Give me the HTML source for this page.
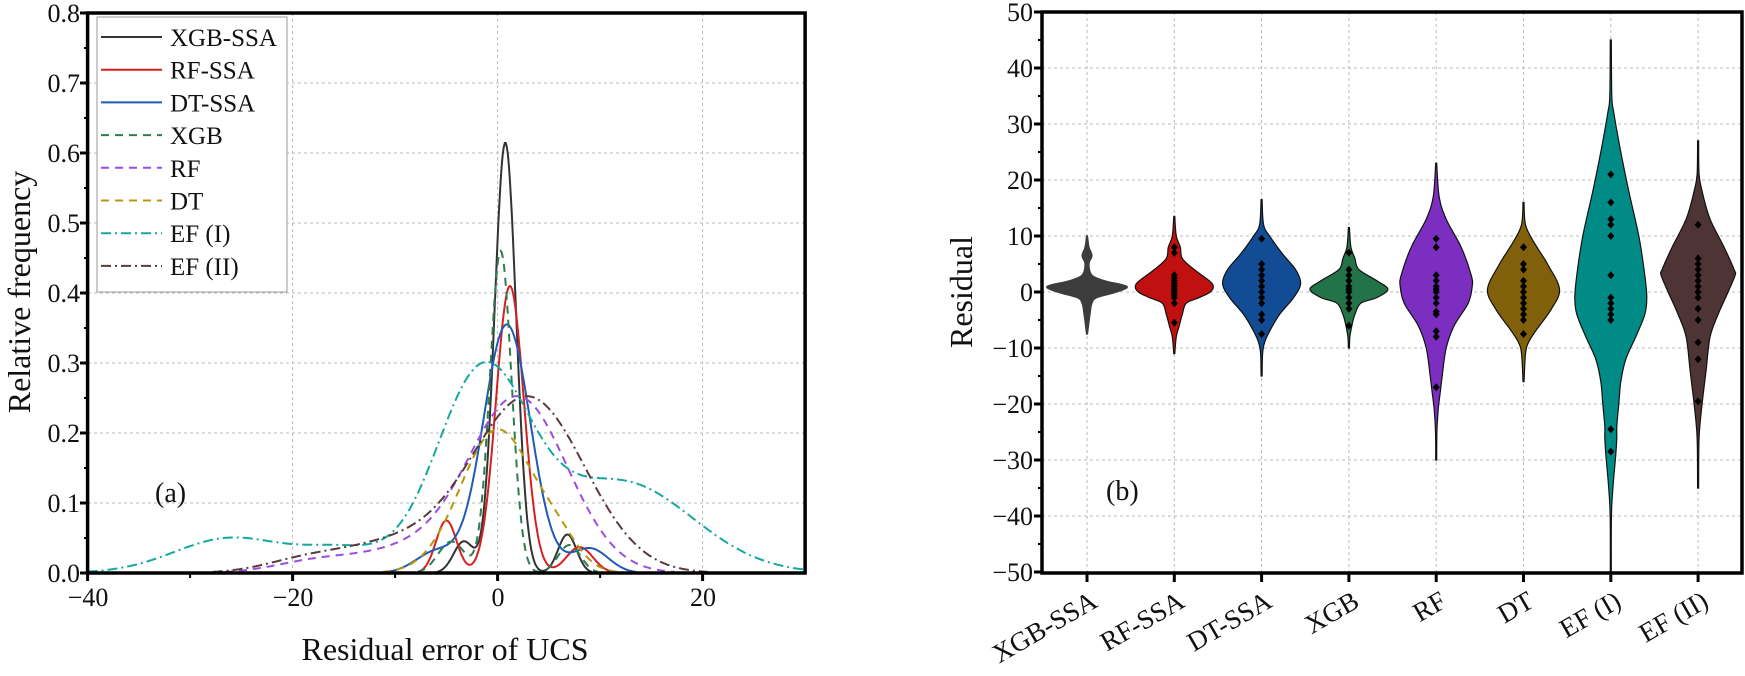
<!DOCTYPE html>
<html><head><meta charset="utf-8">
<style>
html,body{margin:0;padding:0;background:#fff;}
svg{display:block;font-family:"Liberation Serif",serif;}
</style></head>
<body>
<svg id="s" width="1745" height="676" viewBox="0 0 1745 676" xmlns="http://www.w3.org/2000/svg">
<rect width="1745" height="676" fill="#fff"/>
<g id="grid"></g>
<g id="curves"></g>
<g id="violins"></g>
<g id="axes"></g>
<g font-size="26" fill="#111" text-anchor="end">
<text x="80" y="22">0.8</text><text x="80" y="92">0.7</text><text x="80" y="162">0.6</text>
<text x="80" y="232">0.5</text><text x="80" y="302">0.4</text><text x="80" y="372">0.3</text>
<text x="80" y="442">0.2</text><text x="80" y="512">0.1</text><text x="80" y="582">0.0</text>
</g>
<g font-size="26" fill="#111" text-anchor="middle">
<text x="88" y="606">−40</text><text x="293" y="606">−20</text><text x="498" y="606">0</text><text x="703" y="606">20</text>
</g>
<text x="445" y="660" font-size="32" text-anchor="middle" fill="#111">Residual error of UCS</text>
<text transform="translate(30,292) rotate(-90)" font-size="32" text-anchor="middle" fill="#111">Relative frequency</text>
<text x="155" y="502" font-size="28" fill="#111">(a)</text>
<rect x="97" y="17" width="190" height="275" fill="#fff" stroke="#999" stroke-width="1"/>
<g id="legend" font-size="25" fill="#111"></g>
<g font-size="26" fill="#111" text-anchor="end">
<text x="1033" y="21">50</text><text x="1033" y="77">40</text><text x="1033" y="133">30</text>
<text x="1033" y="189">20</text><text x="1033" y="245">10</text><text x="1033" y="301">0</text>
<text x="1033" y="357">−10</text><text x="1033" y="413">−20</text><text x="1033" y="469">−30</text>
<text x="1033" y="525">−40</text><text x="1033" y="581">−50</text>
</g>
<text transform="translate(972,292) rotate(-90)" font-size="32" text-anchor="middle" fill="#111">Residual</text>
<text x="1106" y="500" font-size="28" fill="#111">(b)</text>
<g id="xcat" font-size="27" fill="#111"></g>
</svg>
<script>
(function(){
var NS="http://www.w3.org/2000/svg";
function el(p,t,a,txt){var e=document.createElementNS(NS,t);for(var k in a)e.setAttribute(k,a[k]);if(txt!=null)e.textContent=txt;document.getElementById(p).appendChild(e);return e;}
function LX(v){return 87.6+(v+40)*10.25;}
function LY(v){return 573-v*700;}
function RY(v){return 292-v*5.6;}
var cats=["XGB-SSA","RF-SSA","DT-SSA","XGB","RF","DT","EF (I)","EF (II)"];
function RC(i){return 1087+87.3*i;}
var gs={stroke:"#bbb","stroke-width":1,"stroke-dasharray":"3,3"};
[-20,0,20].forEach(function(v){var a=Object.assign({x1:LX(v),x2:LX(v),y1:13,y2:573},gs);el("grid","line",a);});
for(var i=1;i<8;i++){var a=Object.assign({x1:88,x2:805,y1:LY(i/10),y2:LY(i/10)},gs);el("grid","line",a);}
for(var v=-40;v<=40;v+=10){var a=Object.assign({x1:1042,x2:1743,y1:RY(v),y2:RY(v)},gs);el("grid","line",a);}
for(var i=0;i<8;i++){var a=Object.assign({x1:RC(i),x2:RC(i),y1:12,y2:573},gs);el("grid","line",a);}
function g(a,m,s){return function(x){return a*Math.exp(-(x-m)*(x-m)/(2*s*s));};}
function sum(fs){return function(x){var t=0;fs.forEach(function(f){t+=f(x);});return t;};}
var series=[
 {c:"#333",d:"",f:sum([g(0.615,0.75,1.05),g(0.045,-3.3,1.0),g(0.055,6.8,0.9)])},
 {c:"#d62020",d:"",f:sum([g(0.41,1.2,1.35),g(0.075,-5,1.0),g(0.037,8,1.3)])},
 {c:"#1f5bb5",d:"",f:sum([g(0.355,0.9,2.3),g(0.035,9,1.8),g(0.03,-6,2)])},
 {c:"#2e7d4f",d:"8,6",f:sum([g(0.46,0.3,1.05),g(0.045,-4.5,1.3),g(0.04,7,1.1)])},
 {c:"#9b4de0",d:"8,6",f:sum([g(0.25,2,4.8),g(0.03,-9,5),g(0.015,-18,4)])},
 {c:"#b8960c",d:"8,6",f:sum([g(0.205,0,3.6),g(0.03,6,2)])},
 {c:"#14a8a0",d:"10,4,2,4",f:sum([g(0.28,-1.5,4.5),g(0.13,12,7),g(0.05,-26,5.5),g(0.03,-15,4)])},
 {c:"#5a3a3a",d:"10,4,2,4",f:sum([g(0.25,3,5.5),g(0.04,-10,5.5),g(0.015,-19,4)])}
];
series.forEach(function(s){
 var p="";var started=false;
 for(var x=-40;x<=30.001;x+=0.1){var y=s.f(x);if(y<0.0015){started=false;continue;}
  p+=(started?"L":"M")+LX(x).toFixed(1)+","+LY(y).toFixed(1);started=true;}
 var a={d:p,fill:"none",stroke:s.c,"stroke-width":2};if(s.d)a["stroke-dasharray"]=s.d;
 el("curves","path",a);
});
var names=["XGB-SSA","RF-SSA","DT-SSA","XGB","RF","DT","EF (I)","EF (II)"];
names.forEach(function(n,i){var y=37+32.7*i;var a={x1:101,x2:162,y1:y,y2:y,stroke:series[i].c,"stroke-width":2};if(series[i].d)a["stroke-dasharray"]=series[i].d;el("legend","line",a);el("legend","text",{x:170,y:y+9},n);});
var prof=[
[[10,.5],[8,2],[6.5,5],[5,2],[3,5],[2,18],[1,40],[0,30],[-1,10],[-2,5],[-4,3],[-7.5,.5]],
[[13.5,.5],[10,2],[8,6],[6,8],[4,20],[2,35],[1,39],[0,36],[-1,25],[-2,12],[-4,8],[-6,5],[-8,2],[-11,.5]],
[[16.5,.5],[12,2],[10,8],[7,20],[4,34],[1.5,39],[-1,32],[-4,18],[-7,8],[-9,3],[-11,1],[-15,.5]],
[[11.5,.5],[8,2],[6,6],[4,10],[2,28],[.5,39],[-1,28],[-2,12],[-4,6],[-6,3],[-8,1],[-10,.5]],
[[23,.5],[17,3],[13,10],[8,25],[3,35],[1,36],[-2,32],[-6,18],[-10,10],[-15,6],[-18,4],[-21,2],[-25,.7],[-30,.5]],
[[16,.5],[12,2],[9,10],[5,24],[.5,36],[-3,28],[-7,12],[-9,5],[-11,2],[-16,.5]],
[[45,.5],[35,1],[32,3],[25,10],[18,18],[10,28],[3,34],[-1,36],[-4,34],[-8,25],[-12,15],[-16,10],[-20,8],[-24,6],[-26,6],[-29,5],[-33,3],[-38,1],[-42,.5],[-50,.5]],
[[27,.5],[21,1],[18,4],[13,12],[8,26],[4,36],[3,37],[0,30],[-4,20],[-8,12],[-14,8],[-20,4],[-26,1],[-35,.5]]
];
var fills=["#3c3c3c","#c0100f","#114c94","#227448","#7b2ebf","#80600a","#008b87","#4e3434"];
var pts=[[],
[8,7,3,2.5,2,1.5,1,.5,0,-.5,-1,-2,-5.5],
[9.5,5,4,3,2,1,0,-1,-2,-4,-5,-7.5],
[7,4,3,2,1,.5,0,-1,-2,-3,-6],
[9.5,8,3,2,1,.5,0,-1,-2,-3.5,-4,-7,-8,-17],
[8,5,4,2,1,0,-1,-2,-3,-4,-5,-7.5],
[21,16,13,12,10,3,-1,-2,-3,-4,-5,-24.5,-28.5],
[12,6,5,4,3,2,1,0,-1,-3,-5,-9,-12,-19.5]];
function cr(P){
 var d="M"+P[0][0]+","+P[0][1];
 for(var i=0;i<P.length-1;i++){var p0=P[Math.max(0,i-1)],p1=P[i],p2=P[i+1],p3=P[Math.min(P.length-1,i+2)];
  d+="C"+(p1[0]+(p2[0]-p0[0])/6).toFixed(1)+","+(p1[1]+(p2[1]-p0[1])/6).toFixed(1)+" "+(p2[0]-(p3[0]-p1[0])/6).toFixed(1)+","+(p2[1]-(p3[1]-p1[1])/6).toFixed(1)+" "+p2[0].toFixed(1)+","+p2[1].toFixed(1);}
 return d;}
prof.forEach(function(pr,i){
 var cx=RC(i);
 var R=pr.map(function(q){return [cx+q[1],RY(q[0])];});
 var L=pr.slice().reverse().map(function(q){return [cx-q[1],RY(q[0])];});
 var d=cr(R)+cr(L).replace(/^M/,"L")+"Z";
 el("violins","path",{d:d,fill:fills[i],stroke:i==0?fills[0]:"#111","stroke-width":1.2});
 pts[i].forEach(function(v){var y=RY(v);el("violins","path",{d:"M"+cx+","+(y-4)+"L"+(cx+3.5)+","+y+"L"+cx+","+(y+4)+"L"+(cx-3.5)+","+y+"Z",fill:"#000"});});
 el("xcat","text",{x:cx+12,y:606,"text-anchor":"end",transform:"rotate(-30 "+(cx+12)+" 606)"},cats[i]);
});
var ax={fill:"none",stroke:"#000","stroke-width":3.5};
el("axes","rect",Object.assign({x:87.6,y:13,width:717.5,height:560},ax));
el("axes","rect",Object.assign({x:1042,y:12,width:700,height:561},ax));
for(var i=0;i<=8;i++){el("axes","line",{x1:80,x2:87,y1:LY(i/10),y2:LY(i/10),stroke:"#000","stroke-width":3});}
for(var i=0;i<8;i++){el("axes","line",{x1:84,x2:88,y1:LY(i/10+0.05),y2:LY(i/10+0.05),stroke:"#000","stroke-width":2});}
[-40,-20,0,20].forEach(function(v){el("axes","line",{x1:LX(v),x2:LX(v),y1:573,y2:581,stroke:"#000","stroke-width":3});});
[-30,-10,10].forEach(function(v){el("axes","line",{x1:LX(v),x2:LX(v),y1:573,y2:578,stroke:"#000","stroke-width":2});});
for(var v=-50;v<=50;v+=10){el("axes","line",{x1:1034,x2:1042,y1:RY(v),y2:RY(v),stroke:"#000","stroke-width":3});}
for(var v=-45;v<50;v+=10){el("axes","line",{x1:1038,x2:1042,y1:RY(v),y2:RY(v),stroke:"#000","stroke-width":2});}
for(var i=0;i<8;i++){el("axes","line",{x1:RC(i),x2:RC(i),y1:573,y2:582,stroke:"#000","stroke-width":3});}
})();
</script>
</body></html>
